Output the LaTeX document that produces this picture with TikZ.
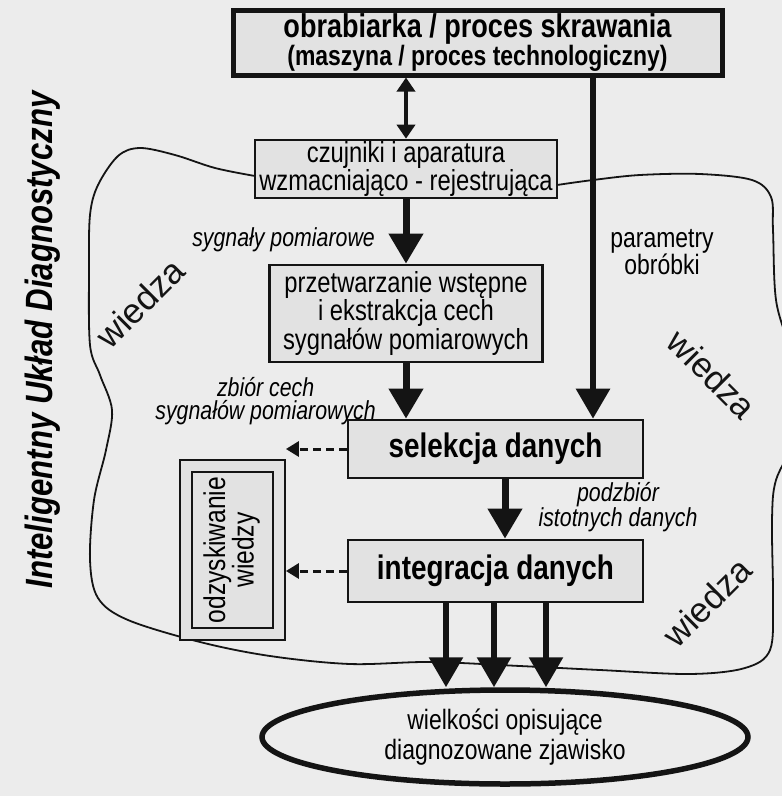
\documentclass[tikz,border=0pt]{standalone}
\usepackage{fontspec}
\setmainfont[FakeStretch=0.82]{Liberation Sans}
\newfontfamily\wfont{Liberation Sans}
\usetikzlibrary{arrows.meta,shapes.geometric,calc}
\definecolor{paper}{RGB}{236,236,236}
\definecolor{boxfill}{RGB}{226,226,226}
\definecolor{ink}{RGB}{20,20,20}
\begin{document}
\begin{tikzpicture}[x=1pt,y=-1pt,
  box/.style={draw=ink,fill=boxfill,line width=2.6pt,inner sep=0pt,align=center},
  big/.style={draw=ink,line width=7pt,-{Triangle[width=33pt,length=30pt]}},
  mid/.style={draw=ink,line width=6pt,-{Triangle[width=33pt,length=30pt]}},
  dbl/.style={draw=ink,line width=4.5pt,{Triangle[width=18pt,length=14pt]}-{Triangle[width=18pt,length=14pt]}},
  dsh/.style={draw=ink,line width=3pt,dash pattern=on 8pt off 5pt,-{Triangle[width=15pt,length=13pt]}},
  lab/.style={font=\fontsize{26}{23}\selectfont\itshape,align=center,inner sep=0pt},
  know/.style={font=\wfont\fontsize{35}{35}\selectfont,text=ink,inner sep=0pt}]
\fill[paper] (0,0) rectangle (782,796);
\useasboundingbox (0,0) rectangle (782,796);
% knowledge blob
\draw[ink,line width=1.8pt] plot[smooth,tension=0.55] coordinates {
 (255,176) (215,168) (175,155) (140,148) (118,156) (98,185) (90,215) (89,270) (90,345)
 (100,375) (112,410) (106,450) (94,500) (90,560) (98,598) (128,620)
 (200,642) (270,656) (350,664) (430,662) (520,666) (600,670) (690,674) (745,668) (770,650)
 (773,600) (772,520) (776,480) (795,440) (800,400) (790,350) (776,300) (773,230) (771,197)
 (752,180) (700,174) (640,175) (593,180) (557,185)};
% wiedza labels
\node[know,rotate=45] (w1) at (140,303) {wiedza};
\node[know,rotate=-45] (w2) at (712,374) {wiedza};
\node[know,rotate=45] (w3) at (707,602) {wiedza};
% side title
\node[font=\fontsize{38}{38}\selectfont\bfseries\itshape,rotate=90,inner sep=0pt] (title) at (43,340) {Inteligentny Układ Diagnostyczny};
% boxes
\node[box,line width=5pt,minimum width=489pt,minimum height=65pt] (top) at (477.5,42.5)
  {{\fontsize{33}{27}\selectfont\bfseries obrabiarka / proces skrawania}\\
   {\fontsize{28}{26}\selectfont\bfseries (maszyna / proces technologiczny)}};
\node[box,minimum width=302pt,minimum height=58pt,font=\fontsize{29}{26}\selectfont] (czuj) at (406,169)
  {czujniki i aparatura\\wzmacniająco - rejestrująca};
\node[box,minimum width=273pt,minimum height=97pt,font=\fontsize{29}{27}\selectfont] (prz) at (406,313.5)
  {przetwarzanie wstępne\\i ekstrakcja cech\\sygnałów pomiarowych};
\node[box,minimum width=295pt,minimum height=58pt,font=\fontsize{34}{34}\selectfont\bfseries] (sel) at (495.5,449)
  {selekcja danych};
\node[box,minimum width=295pt,minimum height=62pt,font=\fontsize{34}{34}\selectfont\bfseries] (int) at (495.5,571)
  {integracja danych};
\node[draw=ink,fill=boxfill,line width=1.8pt,minimum width=105pt,minimum height=180pt] (odzo) at (232.5,550) {};
\node[draw=ink,line width=1.8pt,minimum width=81pt,minimum height=156pt,inner sep=0pt,
  font=\fontsize{30}{26}\selectfont,align=center] (odz) at (232.5,550)
  {\rotatebox{90}{\begin{tabular}{@{}c@{}}odzyskiwanie\\[-1pt]wiedzy\end{tabular}}};
\node[ellipse,draw=ink,fill=paper,line width=5.5pt,minimum width=486pt,minimum height=94pt,inner sep=0pt,
  font=\fontsize{28}{30}\selectfont,align=center] (ell) at (505,737)
  {wielkości opisujące\\diagnozowane zjawisko};
% labels
\node[lab,anchor=east] (l1) at (375,240) {sygnały pomiarowe};
\node[font=\fontsize{28}{25}\selectfont,align=center,inner sep=0pt] (l2) at (662,252) {parametry\\obróbki};
\node[lab,anchor=east] (l3) at (376,401) {zbiór cech\\sygnałów pomiarowych};
\node[lab] (l4) at (618,507) {podzbiór\\istotnych danych};
% connectors
\draw[dbl] (czuj.north |- top.south) -- (czuj.north);
\draw[big] (czuj.south) -- (czuj.south |- prz.north);
\draw[big] (prz.south) -- (prz.south |- sel.north);
\draw[mid] ([xshift=115.5pt]top.south) -- ([xshift=97.5pt]sel.north);
\draw[big] ([xshift=9.5pt]sel.south) -- ([xshift=9.5pt]int.north);
\draw[mid] ([xshift=-49.5pt]int.south) -- ([xshift=-49.5pt]int.south |- ell.north);
\draw[mid] ([xshift=-1.5pt]int.south) -- ([xshift=-1.5pt]int.south |- ell.north);
\draw[mid] ([xshift=50.5pt]int.south) -- ([xshift=50.5pt]int.south |- ell.north);
\draw[dsh] (sel.west) -- (sel.west -| odzo.east);
\draw[dsh] (int.west) -- (int.west -| odzo.east);
\end{tikzpicture}
\end{document}
